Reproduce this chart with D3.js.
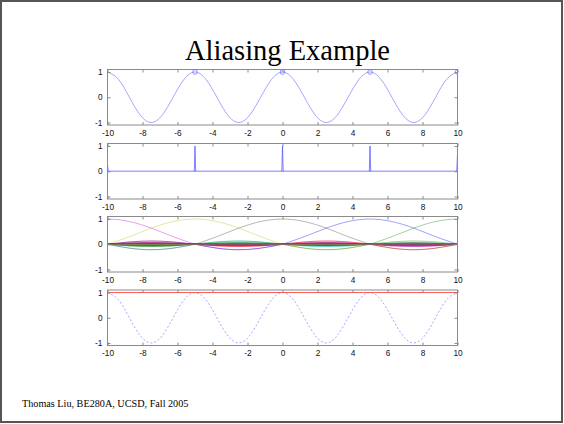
<!DOCTYPE html>
<html><head><meta charset="utf-8">
<script src="https://cdn.jsdelivr.net/npm/d3@7"></script>
<style>body{margin:0;background:#fff}svg{display:block}</style>
</head><body>
<svg id="c" width="564" height="424"></svg>
<script>
// ---------- data ----------
const title = "Aliasing Example";
const footer = "Thomas Liu, BE280A, UCSD, Fall 2005";
const xTicks = [-10,-8,-6,-4,-2,0,2,4,6,8,10];
const yTicks = [-1,0,1];
// original cosine (period 5) read at 8 points per period
const cosX = [-10,-9.375,-8.75,-8.125,-7.5,-6.875,-6.25,-5.625,-5,-4.375,-3.75,-3.125,-2.5,-1.875,-1.25,-0.625,0,0.625,1.25,1.875,2.5,3.125,3.75,4.375,5,5.625,6.25,6.875,7.5,8.125,8.75,9.375,10];
const cosY = [1,0.71,0,-0.71,-1,-0.71,0,0.71,1,0.71,0,-0.71,-1,-0.71,0,0.71,1,0.71,0,-0.71,-1,-0.71,0,0.71,1,0.71,0,-0.71,-1,-0.71,0,0.71,1];
// sample markers
const markX = [-5,0,5,10];
const markY = [1,1,1,1];
// impulse train
const spikeX = [-10,-5,0,5,10];
const spikeH = [0.27,1,1,1,0.72];
// sinc kernels centred on samples
const kernelX = [-100,-95,-90,-85,-80,-75,-70,-65,-60,-55,-50,-45,-40,-35,-30,-25,-20,-15,-10,-5,0,5,10,15,20,25,30,35,40,45,50,55,60,65,70,75,80,85,90,95,100];
const mainOff = [-5,-3.75,-2.5,-1.25,0,1.25,2.5,3.75,5];
const mainVal = [0,0.30,0.64,0.90,1,0.90,0.64,0.30,0];
const sideAmp = [-0.217,0.128,-0.091,0.071,-0.058,0.049,-0.042,0.037,-0.033,0.030,-0.027,0.025,-0.023,0.021,-0.020,0.019,-0.018,0.017,-0.016,0.015,-0.014,0.013];
const lobeFrac = [0,0.25,0.5,0.75,1];
const lobeShape = [0,0.71,1,0.71,0];
const palette = ["#0000ff","#008000","#ff0000","#00bfbf","#bf00bf","#bfbf00","#404040"];
// reconstructed (aliased) signal
const reconX = [-10,10];
const reconY = [1,1];

// ---------- layout ----------
const svg = d3.select("#c");
svg.append("rect").attr("x",1).attr("y",1).attr("width",561).attr("height",421)
  .attr("fill","none").attr("stroke","#555").attr("stroke-width",2);
svg.append("text").attr("x",287.5).attr("y",60).attr("text-anchor","middle")
  .attr("font-family","'Liberation Serif','Times New Roman',serif").attr("font-size",28.5)
  .attr("fill","#000").text(title);
svg.append("text").attr("x",22).attr("y",407)
  .attr("font-family","'Liberation Serif','Times New Roman',serif").attr("font-size",10.2)
  .attr("fill","#000").text(footer);

const L = 107.5, R = 457.5, H = 55.5;
const tops = [69.5, 143.5, 216.5, 290];
const x = d3.scaleLinear().domain([-10,10]).range([L,R]);
const fmt = d => String(d);

function panel(i){
  const t = tops[i];
  const y = d3.scaleLinear().domain([-1.1,1.1]).range([t+H,t]);
  const g = svg.append("g");
  const cid = "clip"+i;
  svg.append("clipPath").attr("id",cid).append("rect")
    .attr("x",L).attr("y",t).attr("width",R-L).attr("height",H);
  const plot = g.append("g").attr("clip-path",`url(#${cid})`);
  const ax = g.append("g").attr("class","axes");
  ax.append("rect").attr("x",L).attr("y",t).attr("width",R-L).attr("height",H)
    .attr("fill","none").attr("stroke","#8a8a8a").attr("stroke-width",1);
  const bottom = d3.axisBottom(x).tickValues(xTicks).tickSizeInner(-3).tickSizeOuter(0).tickPadding(5).tickFormat(fmt);
  const top = d3.axisTop(x).tickValues(xTicks).tickSizeInner(-3).tickSizeOuter(0).tickFormat("");
  const left = d3.axisLeft(y).tickValues(yTicks).tickSizeInner(-3).tickSizeOuter(0).tickPadding(5).tickFormat(fmt);
  const right = d3.axisRight(y).tickValues(yTicks).tickSizeInner(-3).tickSizeOuter(0).tickFormat("");
  [[bottom,`translate(0,${t+H})`],[top,`translate(0,${t})`],[left,`translate(${L},0)`],[right,`translate(${R},0)`]]
    .forEach(([a,tr])=>{
      const gg = ax.append("g").attr("transform",tr).call(a);
      gg.select(".domain").remove();
      gg.selectAll("line").attr("stroke","#8a8a8a");
      gg.selectAll("text").attr("font-family","'Liberation Sans',Arial,sans-serif").attr("font-size",8.3).attr("fill","#111");
    });
  return {plot,y};
}

// panel 1
{
  const {plot,y} = panel(0);
  const line = d3.line().x((d,i)=>x(cosX[i])).y(d=>y(d)).curve(d3.curveNatural);
  plot.append("path").attr("d",line(cosY)).attr("fill","none").attr("stroke","#6a6aff").attr("stroke-width",0.6);
  plot.selectAll("circle").data(markX).join("circle")
    .attr("cx",d=>x(d)).attr("cy",(d,i)=>y(markY[i])).attr("r",2.3)
    .attr("fill","none").attr("stroke","#5050ff").attr("stroke-width",0.6);
}
// panel 2
{
  const {plot,y} = panel(1);
  plot.append("line").attr("x1",x(-10)).attr("x2",x(10)).attr("y1",y(0)).attr("y2",y(0))
    .attr("stroke","#a8a8ff").attr("stroke-width",1.4);
  const line = d3.line().x(d=>x(d[0])).y(d=>y(d[1]));
  spikeX.forEach((sx,i)=>{
    plot.append("path").attr("d",line([[sx-0.04,0],[sx,spikeH[i]],[sx+0.04,0]]))
      .attr("fill","none").attr("stroke","#4a4aff").attr("stroke-width",0.7);
  });
}
// panel 3
{
  const {plot,y} = panel(2);
  const line = d3.line().x(d=>x(d[0])).y(d=>y(d[1])).curve(d3.curveNatural);
  kernelX.forEach((c,k)=>{
    const col = palette[k%7];
    const segs = [];
    if (c-5 < 10 && c+5 > -10) segs.push(mainOff.map((o,j)=>[c+o,mainVal[j]]));
    sideAmp.forEach((a,n)=>{
      const s1 = c+5*(n+1), s2 = c-5*(n+2);
      [s1,s2].forEach(s=>{
        if (s < 10 && s+5 > -10) segs.push(lobeFrac.map((f,j)=>[s+5*f,a*lobeShape[j]]));
      });
    });
    segs.forEach(pts=>{
      plot.append("path").attr("d",line(pts)).attr("fill","none")
        .attr("stroke",col).attr("stroke-width",0.5).attr("stroke-opacity",0.75);
    });
  });
}
// panel 4
{
  const {plot,y} = panel(3);
  const lineC = d3.line().x((d,i)=>x(cosX[i])).y(d=>y(d)).curve(d3.curveNatural);
  plot.append("path").attr("d",lineC(cosY)).attr("fill","none").attr("stroke","#6a6aff")
    .attr("stroke-width",0.6).attr("stroke-dasharray","2,2");
  const lineR = d3.line().x((d,i)=>x(reconX[i])).y(d=>y(d));
  plot.append("path").attr("d",lineR(reconY)).attr("fill","none").attr("stroke","#ff5a5a").attr("stroke-width",1);
}
</script>
</body></html>
